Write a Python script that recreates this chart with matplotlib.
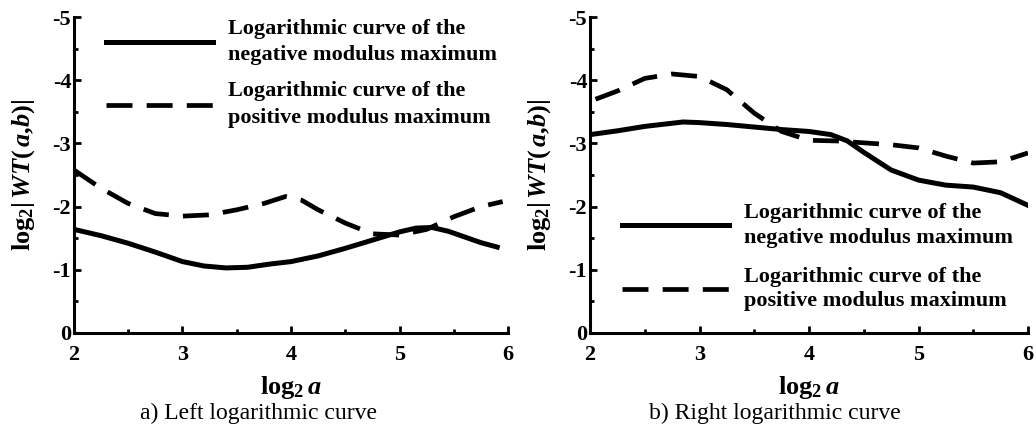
import numpy as np
import matplotlib.pyplot as plt
from matplotlib.ticker import MultipleLocator

plt.rcParams['font.family'] = ['Liberation Serif', 'DejaVu Serif']
plt.rcParams['axes.unicode_minus'] = False
plt.rcParams['mathtext.fontset'] = 'custom'
plt.rcParams['mathtext.rm'] = 'Liberation Serif:bold'
plt.rcParams['mathtext.it'] = 'Liberation Serif:bold:italic'
plt.rcParams['mathtext.bf'] = 'Liberation Serif:bold'

# left panel
left_neg_x = [2.0, 2.25, 2.5, 2.75, 3.0, 3.2, 3.4, 3.6, 3.8, 4.0, 4.25, 4.5, 4.75, 5.0, 5.15, 5.3, 5.45, 5.6, 5.75, 5.9]
left_neg_y = [-1.64, -1.54, -1.42, -1.28, -1.13, -1.06, -1.03, -1.04, -1.09, -1.13, -1.22, -1.34, -1.47, -1.60, -1.66, -1.67, -1.61, -1.52, -1.43, -1.36]
left_pos_x = [2.0, 2.25, 2.5, 2.75, 3.0, 3.25, 3.5, 3.75, 3.95, 4.1, 4.25, 4.5, 4.75, 5.0, 5.25, 5.5, 5.75, 5.95]
left_pos_y = [-2.58, -2.29, -2.05, -1.89, -1.85, -1.87, -1.95, -2.05, -2.16, -2.10, -1.95, -1.74, -1.57, -1.55, -1.64, -1.84, -2.00, -2.08]

# right panel
right_neg_x = [2.0, 2.25, 2.5, 2.85, 3.0, 3.25, 3.5, 3.75, 4.0, 4.2, 4.35, 4.5, 4.75, 5.0, 5.25, 5.5, 5.75, 6.0]
right_neg_y = [-3.14, -3.20, -3.27, -3.34, -3.33, -3.30, -3.26, -3.22, -3.19, -3.14, -3.04, -2.86, -2.58, -2.42, -2.34, -2.31, -2.22, -2.02]
right_pos_x = [2.05, 2.25, 2.5, 2.75, 3.0, 3.25, 3.5, 3.75, 4.0, 4.25, 4.5, 4.75, 5.0, 5.25, 5.5, 5.75, 6.0]
right_pos_y = [-3.70, -3.83, -4.03, -4.10, -4.06, -3.85, -3.48, -3.19, -3.05, -3.04, -3.01, -2.98, -2.93, -2.80, -2.69, -2.71, -2.85]

lab_neg = "Logarithmic curve of the\nnegative modulus maximum"
lab_pos = "Logarithmic curve of the\npositive modulus maximum"
captions = ["a) Left logarithmic curve", "b) Right logarithmic curve"]

fig = plt.figure(figsize=(10.36, 4.28), dpi=100)
ax1 = fig.add_axes([0.0714, 0.222, 0.419, 0.738])
ax2 = fig.add_axes([0.5695, 0.222, 0.4228, 0.738])

# (axes, data..., legend anchor, label spacing, line spacing)
panels = [
    (ax1, left_neg_x, left_neg_y, left_pos_x, left_pos_y, (0.074, 0.995), 0.72, 1.45),
    (ax2, right_neg_x, right_neg_y, right_pos_x, right_pos_y, (0.073, 0.41), 0.85, 1.3),
]

for ax, nx, ny, px, py, lpos, lsp, lnsp in panels:
    ax.plot(nx, ny, color='black', lw=3.6, label=lab_neg)
    ax.plot(px, py, color='black', lw=3.4, dashes=(5.5, 3), label=lab_pos)
    ax.set_xlim(2, 6)
    ax.set_ylim(0, -5)
    ax.xaxis.set_major_locator(MultipleLocator(1))
    ax.xaxis.set_minor_locator(MultipleLocator(0.5))
    ax.yaxis.set_major_locator(MultipleLocator(1))
    ax.yaxis.set_minor_locator(MultipleLocator(0.5))
    ax.spines['top'].set_visible(False)
    ax.spines['right'].set_visible(False)
    for s in ['left', 'bottom']:
        ax.spines[s].set_linewidth(2.2)
    ax.tick_params(which='both', direction='in', width=2)
    ax.tick_params(which='major', length=5, labelsize=16)
    ax.tick_params(axis='x', which='major', pad=9)
    ax.tick_params(axis='y', which='major', pad=2)
    ax.tick_params(which='minor', length=3)
    for t in ax.get_xticklabels() + ax.get_yticklabels():
        t.set_fontweight('bold')
    ax.set_xlabel(r'$\mathrm{log_2}\,a$', fontsize=19, labelpad=6)
    ax.set_ylabel(r'$\mathrm{log_2|}\,WT(\,a{,}b)\mathrm{|}$', fontsize=19, labelpad=11)
    leg = ax.legend(loc='upper left', bbox_to_anchor=lpos, frameon=False,
                    handlelength=4.8, handletextpad=0.7, borderpad=0, borderaxespad=0,
                    labelspacing=lsp, prop={'family': 'Liberation Serif', 'weight': 'bold', 'size': 16})
    for t in leg.get_texts():
        t.set_linespacing(lnsp)

fig.text(259 / 1036, 1 - 413 / 428, captions[0], ha='center', va='center', fontsize=17)
fig.text(775 / 1036, 1 - 413 / 428, captions[1], ha='center', va='center', fontsize=17)

fig.savefig('out.png', dpi=100)
